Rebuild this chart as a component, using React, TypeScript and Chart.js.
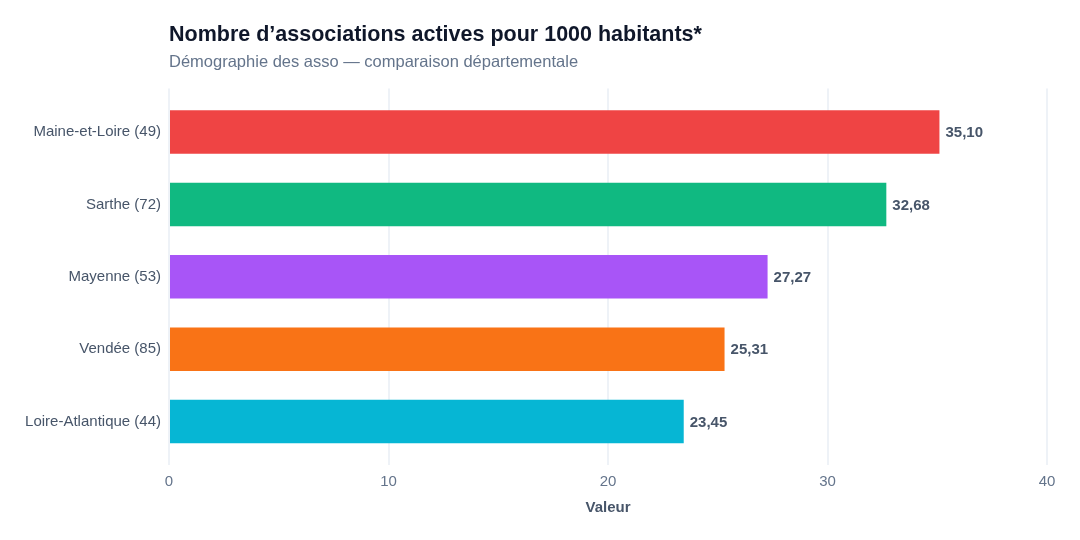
import React, { useEffect, useRef } from "react";
import { Chart, registerables, CategoryScale } from "chart.js";

Chart.register(...registerables);

// Category axis with a little extra room above the first and below the last bar
class PaddedCategoryScale extends CategoryScale {
  static id = "paddedCategory";
  static defaults = CategoryScale.defaults;
  buildTicks() {
    const ticks = super.buildTicks();
    const extra = 0.1;
    (this as any)._startValue -= extra;
    (this as any)._valueRange += 2 * extra;
    return ticks;
  }
}
Chart.register(PaddedCategoryScale);

const departements = [
  "Maine-et-Loire (49)",
  "Sarthe (72)",
  "Mayenne (53)",
  "Vendée (85)",
  "Loire-Atlantique (44)",
];
const associationsPour1000 = [35.1, 32.68, 27.27, 25.31, 23.45];
const barColors = ["#ef4444", "#10b981", "#a855f7", "#f97316", "#06b6d4"];
const xTicks = [0, 10, 20, 30, 40];

const titleText = "Nombre d’associations actives pour 1000 habitants*";
const subtitleText = "Démographie des asso — comparaison départementale";
const xAxisTitle = "Valeur";

const FONT = "'Liberation Sans', Arial, Helvetica, sans-serif";

const formatFr = (v: number) =>
  v.toLocaleString("fr-FR", { minimumFractionDigits: 2, maximumFractionDigits: 2 });

const valueLabels = {
  id: "valueLabels",
  afterDatasetsDraw(chart: any) {
    const { ctx } = chart;
    const meta = chart.getDatasetMeta(0);
    ctx.save();
    ctx.font = `bold 15px ${FONT}`;
    ctx.fillStyle = "#475569";
    ctx.textAlign = "left";
    ctx.textBaseline = "middle";
    meta.data.forEach((bar: any, i: number) => {
      const v = chart.data.datasets[0].data[i] as number;
      ctx.fillText(formatFr(v), bar.x + 6, bar.y + 1);
    });
    ctx.restore();
  },
};

export default function App() {
  const canvasRef = useRef<HTMLCanvasElement | null>(null);

  useEffect(() => {
    document.body.style.margin = "0";
    const canvas = canvasRef.current;
    if (!canvas) return;
    const chart = new Chart(canvas, {
      type: "bar",
      data: {
        labels: departements,
        datasets: [
          {
            data: associationsPour1000,
            backgroundColor: barColors,
            borderWidth: 0,
            categoryPercentage: 0.6,
            barPercentage: 1,
          },
        ],
      },
      options: {
        indexAxis: "y",
        animation: false,
        responsive: false,
        maintainAspectRatio: false,
        layout: { padding: { top: 0, left: 0, right: 33, bottom: 23 } },
        font: { family: FONT },
        plugins: {
          legend: { display: false },
          tooltip: { enabled: false },
          title: {
            display: true,
            text: titleText,
            align: "start",
            fullSize: false,
            color: "#0f172a",
            font: { family: FONT, size: 21.5, weight: "bold" },
            padding: { top: 22, bottom: 5 },
          },
          subtitle: {
            display: true,
            text: subtitleText,
            align: "start",
            fullSize: false,
            color: "#64748b",
            font: { family: FONT, size: 16.5 },
            padding: { top: 0, bottom: 16 },
          },
        },
        scales: {
          x: {
            type: "linear",
            min: 0,
            max: 40,
            afterBuildTicks: (scale: any) => {
              scale.ticks = xTicks.map((v) => ({ value: v }));
            },
            afterFit: (scale: any) => {
              scale.height = 52;
            },
            grid: { color: "#eef2f7", lineWidth: 2, drawTicks: false },
            border: { display: false },
            ticks: {
              color: "#64748b",
              font: { family: FONT, size: 15 },
              padding: 8,
            },
            title: {
              display: true,
              text: xAxisTitle,
              color: "#475569",
              font: { family: FONT, size: 15, weight: "bold" },
              padding: { top: 6, bottom: 0 },
            },
          },
          y: {
            type: "paddedCategory" as any,
            afterFit: (scale: any) => {
              scale.width = 169;
            },
            grid: { display: false, drawTicks: false },
            border: { display: false },
            ticks: {
              color: "#475569",
              font: { family: FONT, size: 15 },
              padding: 8,
            },
          },
        },
      },
      plugins: [valueLabels],
    });
    return () => chart.destroy();
  }, []);

  return (
    <div style={{ position: "fixed", left: 0, top: 0, width: 1080, height: 540, background: "#ffffff" }}>
      <canvas ref={canvasRef} width={1080} height={540} style={{ display: "block" }} />
    </div>
  );
}
